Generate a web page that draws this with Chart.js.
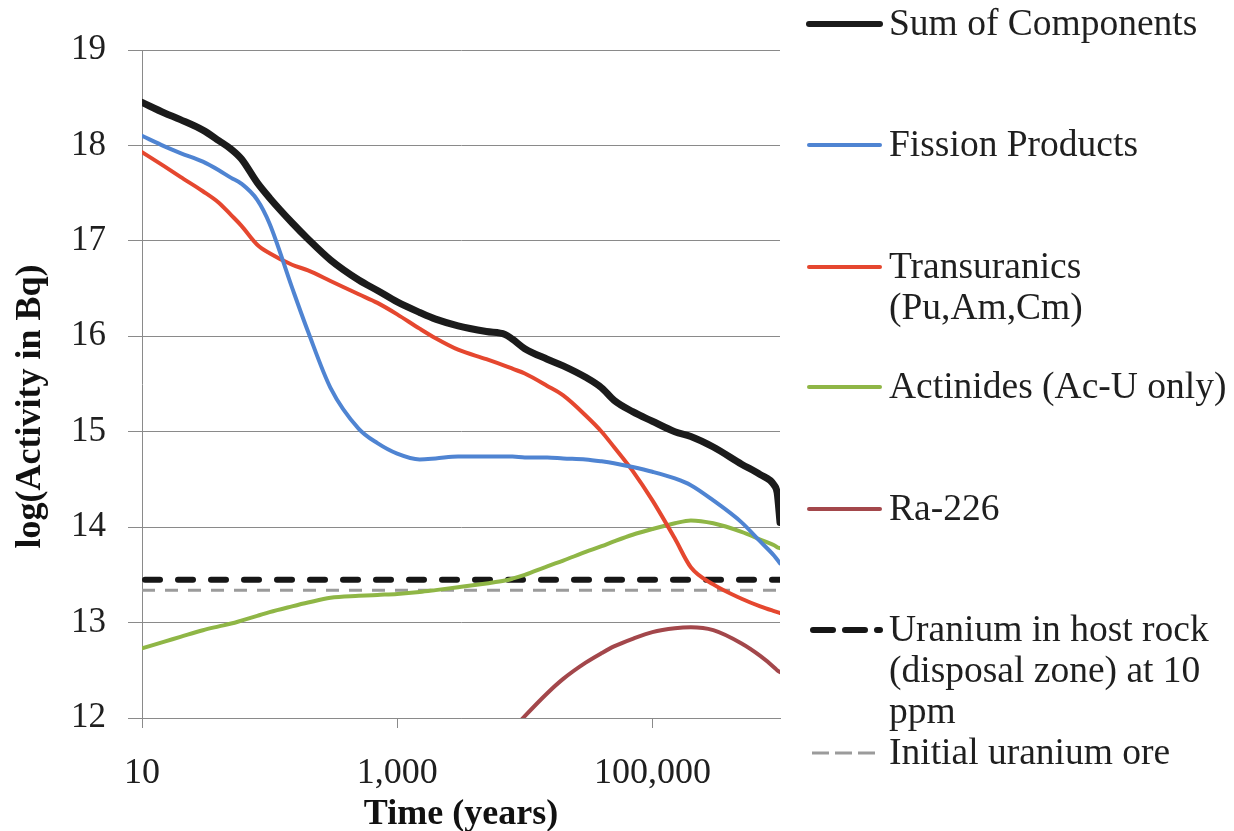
<!DOCTYPE html>
<html>
<head>
<meta charset="utf-8">
<script src="https://cdn.jsdelivr.net/npm/chart.js@4/dist/chart.umd.min.js"></script>
<style>
  html, body { margin: 0; padding: 0; background: #ffffff; }
  #wrap { width: 1234px; height: 831px; position: relative; }
</style>
</head>
<body>
<div id="wrap"><canvas id="activity" width="1234" height="831"></canvas></div>
<script>
// Time after disposal (years), log-spaced sample points
const years = [10, 15, 20, 30, 40, 50, 60, 80, 100, 150, 200, 300, 500, 700, 1000, 1500, 2000, 3000,
  5000, 7000, 8000, 10000, 15000, 20000, 30000, 40000, 50000, 70000, 100000, 150000, 200000,
  300000, 500000, 700000, 900000, 950000, 1000000];

// log10 of activity (Bq) for each component
const sumOfComponents = [18.45, 18.34, 18.27, 18.16, 18.05, 17.96, 17.86, 17.61, 17.45, 17.19, 17.02, 16.80,
  16.59, 16.48, 16.36, 16.25, 16.18, 16.11, 16.05, 16.02, 15.97, 15.87, 15.76, 15.69, 15.57, 15.46,
  15.33, 15.21, 15.11, 15.00, 14.95, 14.84, 14.66, 14.55, 14.44, 14.36, 14.05];
const fissionProducts = [18.10, 17.99, 17.92, 17.83, 17.74, 17.66, 17.60, 17.43, 17.18, 16.51, 16.05, 15.46,
  15.03, 14.88, 14.77, 14.71, 14.72, 14.74, 14.74, 14.74, 14.74, 14.73, 14.73, 14.72, 14.71, 14.69,
  14.67, 14.63, 14.58, 14.51, 14.44, 14.28, 14.05, 13.85, 13.70, 13.66, 13.62];
const transuranics = [17.93, 17.78, 17.67, 17.52, 17.40, 17.27, 17.16, 16.96, 16.87, 16.75, 16.69, 16.58,
  16.44, 16.35, 16.23, 16.08, 15.98, 15.86, 15.76, 15.69, 15.66, 15.61, 15.48, 15.38, 15.17, 15.00,
  14.84, 14.59, 14.28, 13.88, 13.58, 13.40, 13.25, 13.17, 13.12, 13.11, 13.10];
const actinides = [12.73, 12.80, 12.85, 12.92, 12.96, 12.99, 13.02, 13.07, 13.11, 13.17, 13.21, 13.26,
  13.28, 13.29, 13.30, 13.32, 13.34, 13.37, 13.41, 13.44, 13.46, 13.50, 13.59, 13.65, 13.74, 13.80,
  13.85, 13.92, 13.98, 14.04, 14.07, 14.04, 13.95, 13.87, 13.81, 13.79, 13.78];
const radium226 = [null, null, null, null, null, null, null, null, null, null, null, null,
  null, null, null, null, null, null, 11.60, 11.80, 11.88, 12.02, 12.26, 12.41, 12.58, 12.68,
  12.75, 12.83, 12.90, 12.94, 12.95, 12.92, 12.78, 12.65, 12.53, 12.50, 12.48];

// Reference levels (constant over time)
const referenceSpan = [10, 1000000];
const hostRockUranium = 13.45;
const initialUraniumOre = 13.34;

// Axis ticks
const yTickValues = [12, 13, 14, 15, 16, 17, 18, 19];
const xTickValues = [10, 1000, 100000];

// Legend text (one array entry per printed line)
const legendText = [
  ['Sum of Components'],
  ['Fission Products'],
  ['Transuranics', '(Pu,Am,Cm)'],
  ['Actinides (Ac-U only)'],
  ['Ra-226'],
  ['Uranium in host rock', '(disposal zone) at 10', 'ppm'],
  ['Initial uranium ore']
];

const pairs = (xs, ys) => xs.map((x, i) => ({ x: x, y: ys[i] }));
const flat = (v) => referenceSpan.map(x => ({ x: x, y: v }));

const SERIF = '"Liberation Serif", "Times New Roman", serif';
Chart.defaults.font.family = SERIF;
Chart.defaults.color = '#1f1f1f';

const curve = { pointRadius: 0, fill: false, cubicInterpolationMode: 'monotone', borderJoinStyle: 'round', borderCapStyle: 'round' };

const datasets = [
  Object.assign({ label: legendText[0].join(' '), data: pairs(years, sumOfComponents), borderColor: '#1b1b1b', borderWidth: 7 }, curve),
  Object.assign({ label: legendText[1].join(' '), data: pairs(years, fissionProducts), borderColor: '#4f84d2', borderWidth: 4 }, curve),
  Object.assign({ label: legendText[2].join(' '), data: pairs(years, transuranics), borderColor: '#e5472f', borderWidth: 4 }, curve),
  Object.assign({ label: legendText[3].join(' '), data: pairs(years, actinides), borderColor: '#8fb646', borderWidth: 4 }, curve),
  Object.assign({ label: legendText[4].join(' '), data: pairs(years, radium226), borderColor: '#a3474b', borderWidth: 4, clip: 0 }, curve),
  { label: legendText[5].join(' '), data: flat(hostRockUranium), borderColor: '#161616', borderWidth: 6,
    borderDash: [15, 18], borderDashOffset: -3, borderCapStyle: 'round', pointRadius: 0, fill: false },
  { label: legendText[6].join(' '), data: flat(initialUraniumOre), borderColor: '#9b9b9b', borderWidth: 3,
    borderDash: [13, 10], pointRadius: 0, fill: false }
];

// Legend drawn at the right of the plot, one line sample per series
const sideLegend = {
  id: 'sideLegend',
  afterDraw(chart) {
    const ctx = chart.ctx;
    const rows = [24, 145, 267, 387, 509, 630, 753];
    const lineX0 = 809, lineX1 = 880, textX = 889, lineGap = 41;
    const legendDash = [null, null, null, null, null, { dash: [20, 12], start: 813, end: 880 }, { dash: [17, 6], start: 812, end: 876 }];
    ctx.save();
    chart.data.datasets.forEach((ds, i) => {
      const y = rows[i];
      ctx.beginPath();
      ctx.strokeStyle = ds.borderColor;
      ctx.lineWidth = Math.min(ds.borderWidth, 6);
      const d = legendDash[i];
      if (d) {
        ctx.setLineDash(d.dash);
        ctx.lineCap = i === 5 ? 'round' : 'butt';
        ctx.moveTo(d.start, y);
        ctx.lineTo(d.end, y);
      } else {
        ctx.setLineDash([]);
        ctx.lineCap = 'round';
        ctx.moveTo(lineX0, y);
        ctx.lineTo(lineX1, y);
      }
      ctx.stroke();
      ctx.setLineDash([]);
      ctx.fillStyle = '#1f1f1f';
      ctx.font = '37.5px ' + SERIF;
      ctx.textAlign = 'left';
      ctx.textBaseline = 'alphabetic';
      legendText[i].forEach((t, k) => ctx.fillText(t, textX, y + 11 + k * lineGap));
    });
    ctx.restore();
  }
};

new Chart(document.getElementById('activity'), {
  type: 'line',
  data: { datasets: datasets },
  options: {
    responsive: false,
    animation: false,
    devicePixelRatio: 1,
    layout: { padding: { top: 50, right: 454, bottom: 0, left: 0 } },
    plugins: { legend: { display: false }, tooltip: { enabled: false } },
    scales: {
      x: {
        type: 'logarithmic',
        min: 10,
        max: 1000000,
        afterBuildTicks: (axis) => { axis.ticks = xTickValues.map(v => ({ value: v })); },
        afterFit: (axis) => { axis.height = 113; },
        grid: { display: true, drawOnChartArea: false, drawTicks: true, tickLength: 10, color: '#8a8a8a', lineWidth: 1 },
        border: { display: true, color: '#8a8a8a', width: 1 },
        ticks: {
          autoSkip: false, maxRotation: 0, padding: 24,
          font: { size: 36, family: SERIF }, color: '#1f1f1f',
          callback: (v) => Number(v).toLocaleString('en-US')
        },
        title: {
          display: true, text: 'Time (years)', color: '#111111',
          font: { size: 36, weight: 'bold', family: SERIF, lineHeight: 0.9 },
          padding: { top: 0, bottom: 0 }
        }
      },
      y: {
        type: 'linear',
        min: 12,
        max: 19,
        afterBuildTicks: (axis) => { axis.ticks = yTickValues.map(v => ({ value: v })); },
        afterFit: (axis) => { axis.width = 142; },
        grid: { color: '#8a8a8a', lineWidth: 1, drawTicks: true, tickLength: 14 },
        border: { display: true, color: '#8a8a8a', width: 1 },
        ticks: { padding: 22, font: { size: 35, family: SERIF }, color: '#1f1f1f' },
        title: {
          display: true, text: 'log(Activity in Bq)\u2002\u2002 ', color: '#111111',
          font: { size: 36, weight: 'bold', family: SERIF, lineHeight: 1.2 },
          padding: { top: 9, bottom: 0 }
        }
      }
    }
  },
  plugins: [sideLegend]
});
</script>
</body>
</html>
